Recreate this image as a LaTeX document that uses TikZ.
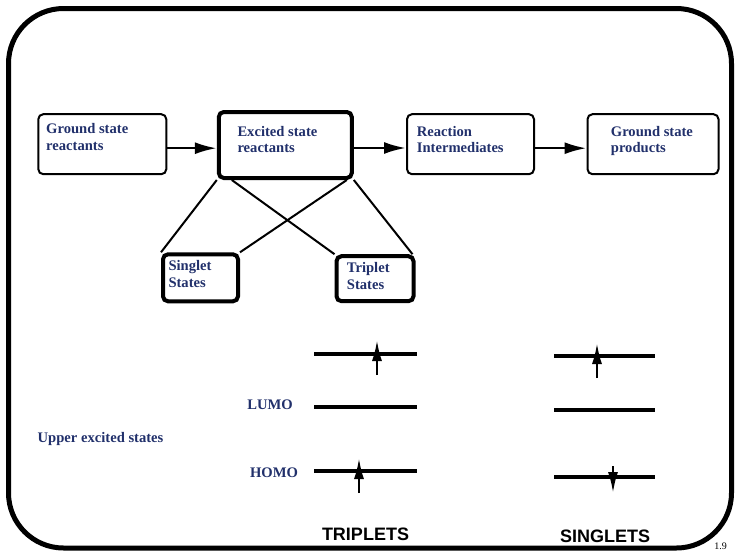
\documentclass[tikz,border=0pt]{standalone}
\usepackage{fontspec}
\setmainfont{Liberation Serif}
\setsansfont{Liberation Sans}
\usetikzlibrary{arrows.meta}

\begin{document}
\begin{tikzpicture}[>=Latex, x=1pt, y=-1pt]

\definecolor{txtblue}{rgb}{0.13,0.19,0.42}
\def\labfont{\fontsize{14.6}{16.5}\bfseries\selectfont}
\def\capfont{\fontsize{18}{18}\sffamily\bfseries\selectfont}

\tikzset{
  box/.style={draw, line width=2pt, rounded corners=5pt, inner sep=0pt},
  bigbox/.style={draw, line width=4pt, rounded corners=5pt, inner sep=0pt},
  lab/.style={anchor=north west, inner sep=0pt, align=left, text=txtblue, font=\labfont},
  capt/.style={anchor=base, inner sep=0pt, font=\capfont},
  flow/.style={->, >={Latex[length=22pt,width=12pt]}, line width=2.5pt},
  link/.style={line width=2pt},
  level/.style={line width=3.5pt},
  spin/.style={->, >={Latex[length=21pt,width=10pt]}, line width=2.4pt}
}

\useasboundingbox (0,0) rectangle (737,552);
\draw[line width=5pt, rounded corners=55pt] (8.5,8.5) rectangle (731.5,548);

% boxes
\node[box, minimum width=128, minimum height=60] (gsr) at (102.3,144.2) {};
\node[bigbox, minimum width=133, minimum height=66] (esr) at (285.3,145) {};
\node[box, minimum width=127, minimum height=60] (ri) at (470.5,144.2) {};
\node[box, minimum width=131, minimum height=60] (gsp) at (653,144.2) {};
\node[bigbox, minimum width=75, minimum height=47] (sing) at (200.5,277.8) {};
\node[bigbox, minimum width=77, minimum height=45] (trip) at (375,278.7) {};

\node[lab] (gsrt) at (46,123.5) {Ground state\\reactants};
\node[lab] (esrt) at (237.3,126) {Excited state\\reactants};
\node[lab] (rit) at (416.7,126) {Reaction\\Intermediates};
\node[lab] (gspt) at (610.7,126) {Ground state\\products};
\node[lab] (singt) at (168.3,260.5) {Singlet\\States};
\node[lab] (tript) at (346.7,262.5) {Triplet\\States};

\draw[flow] ([yshift=-4]gsr.east) -- ([yshift=-4]gsr.east -| esr.west);
\draw[flow] ([yshift=-3]esr.east) -- ([yshift=-3]esr.east -| ri.west);
\draw[flow] ([yshift=-4]ri.east) -- ([yshift=-4]ri.east -| gsp.west);

\draw[link] (esr.south west) -- (sing.north west);
\draw[link] ([xshift=15]esr.south west) -- (trip.north west);
\draw[link] ([xshift=-7]esr.south east) -- (sing.north east);
\draw[link] (esr.south east) -- ([xshift=-3]trip.north east);

% orbital levels
\foreach \y in {354,407,471}{
  \draw[level] (314,\y) -- (417,\y);
}
\foreach \y in {356,410,477}{
  \draw[level] (554,\y) -- (655,\y);
}

\draw[spin] (377,375) -- (377,340);
\draw[spin] (359,493) -- (359,458);
\draw[spin] (597,378) -- (597,343);
\draw[spin] (613,466) -- (613,493);

\node[lab, anchor=center] (lumo) at (270,405) {LUMO};
\node[lab, anchor=center] (homo) at (274,473) {HOMO};
\node[lab] (upper) at (37.5,432) {Upper excited states};

\node[capt] (triplets) at (365.5,540) {TRIPLETS};
\node[capt] (singlets) at (605,542) {SINGLETS};
\node[inner sep=0pt, font=\fontsize{10}{10}\selectfont] (page) at (720.7,546) {1.9};

\end{tikzpicture}
\end{document}
